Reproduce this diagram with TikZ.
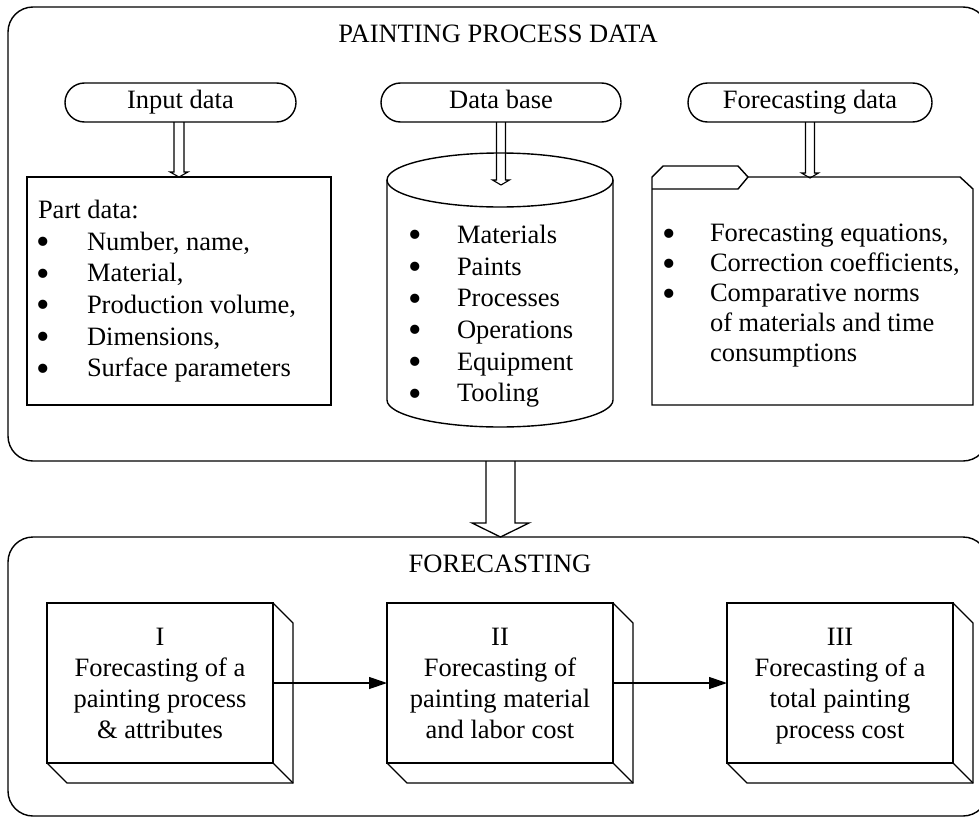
\documentclass[tikz,border=0pt]{standalone}
\usepackage{fontspec}
\setmainfont{Liberation Serif}
\usetikzlibrary{arrows.meta,calc}
\newcommand{\hollowarr}[5]{%
  \draw[line width=1.1pt, line join=miter] let \p1=(#1), \p2=(#2) in
    (\x2-#3,\y1) -- (\x2-#3,\y2+#5) -- (\x2-#4,\y2+#5) -- (\x2,\y2)
    -- (\x2+#4,\y2+#5) -- (\x2+#3,\y2+#5) -- (\x2+#3,\y1);}
\newcommand{\bigbul}{\smash{\raisebox{-0.17em}{\scalebox{1.45}{\textbullet}}}}
\begin{document}
\begin{tikzpicture}[x=1pt,y=1pt,
  every node/.style={font=\fontsize{26.5}{31.7}\selectfont, inner sep=0pt, outer sep=0pt},
  lw/.style={line width=1.4pt},
  outerframe/.style={draw, lw, rounded corners=25pt, minimum width=980pt},
  termbox/.style={draw, lw, rounded corners=19.5pt, minimum height=39pt, text height=18pt, text depth=6pt},
  listbox/.style={draw, lw},
  frontbox/.style={draw, line width=1.6pt, minimum width=226pt, minimum height=160pt, align=center, text depth=0pt, font=\fontsize{26.5}{31}\selectfont},
  flowarrow/.style={line width=1.2pt, -{Triangle[length=18pt,width=12pt]}},
  itemtext/.style={anchor=base west},
]
\useasboundingbox (0,0) rectangle (979,-819);
\clip (0,0) rectangle (979,-819);

% outer frames
\node[outerframe, minimum height=454pt] (top) at (498,-234) {};
\node[outerframe, minimum height=279pt] (fc) at (498,-676.5) {};
\node[anchor=base] (ttl) at (498,-42) {PAINTING PROCESS DATA};
\node[anchor=base] (fttl) at (500,-572) {FORECASTING};

% terminators
\node[termbox, minimum width=231pt] (inp) at (180.5,-102.5) {Input data};
\node[termbox, minimum width=240pt] (dbt) at (501,-102.5) {Data base};
\node[termbox, minimum width=244pt] (fdt) at (810,-102.5) {Forecasting data};

% part data box
\node[listbox, minimum width=304pt, minimum height=228pt] (pd) at (179,-291) {};
\node[itemtext] (pdh) at (38,-218.3) {Part data:};
\foreach \t [count=\i] in {{Number, name,},{Material,},{Production volume,},{Dimensions,},{Surface parameters}} {
  \node[itemtext] (pdb\i) at (36.5,-218.3-31.7*\i) {\bigbul};
  \node[itemtext] (pdt\i) at (87,-218.3-31.7*\i) {\t};
}

% database cylinder
\draw[lw] (500,-180) ellipse [x radius=113pt, y radius=27pt];
\draw[lw] (387,-180) -- (387,-400) arc[start angle=180, end angle=360, x radius=113pt, y radius=27pt] -- (613,-180);
\coordinate (dbtip) at (501,-185);
\foreach \t [count=\i] in {Materials,Paints,Processes,Operations,Equipment,Tooling} {
  \node[itemtext] (dbb\i) at (408.5,-243.3-31.7*\i+31.7) {\bigbul};
  \node[itemtext] (dbi\i) at (457,-243.3-31.7*\i+31.7) {\t};
}

% forecasting data folder
\draw[lw, line join=miter] (652,-405) -- (652,-177) -- (663,-166) -- (738,-166) -- (748,-177)
  -- (960,-177) -- (973,-189) -- (973,-405) -- cycle;
\draw[lw, line join=miter] (652,-189) -- (738,-189) -- (748,-177);
\coordinate (fdtip) at (810,-178);
\foreach \t [count=\i] in {{Forecasting equations,},{Correction coefficients,},{Comparative norms}} {
  \node[itemtext] (fdb\i) at (662.5,-241.7-30*\i+30) {\bigbul};
}
\foreach \t [count=\i] in {{Forecasting equations,},{Correction coefficients,},{Comparative norms},{of materials and time},{consumptions}} {
  \node[itemtext] (fdi\i) at (710,-241.7-30*\i+30) {\t};
}

% small hollow arrows
\hollowarr{inp.south}{pd.north}{5pt}{9pt}{5pt}
\hollowarr{dbt.south}{dbtip}{4.5pt}{8.5pt}{5pt}
\hollowarr{fdt.south}{fdtip}{4.5pt}{8.5pt}{5pt}

% big hollow arrow
\coordinate (bigtip) at ($(fc.north)+(2.5,0)$);
\draw[line width=1.3pt, line join=miter] let \p1=(top.south), \p2=(bigtip) in
  (\x2-14.5pt,\y1) -- (\x2-14.5pt,\y2+14pt) -- (\x2-28.5pt,\y2+14pt) -- (\x2,\y2)
  -- (\x2+28.5pt,\y2+14pt) -- (\x2+14.5pt,\y2+14pt) -- (\x2+14.5pt,\y1);

% forecasting 3D boxes
\node[frontbox] (b1) at (160,-683) {I\\Forecasting of a\\painting process\\\& attributes};
\node[frontbox] (b2) at (500,-683) {II\\Forecasting of\\painting material\\and labor cost};
\node[frontbox] (b3) at (840,-683) {III\\Forecasting of a\\total painting\\process cost};
\foreach \b in {b1,b2,b3} {
  \draw[line width=1.3pt, line join=miter] (\b.north east) -- ++(20,-20) -- ++(0,-160) -- ++(-226,0) -- (\b.south west);
  \draw[line width=1.3pt] (\b.south east) -- ++(20,-20);
}
\draw[flowarrow] (b1.east) -- (b2.west);
\draw[flowarrow] (b2.east) -- (b3.west);
\end{tikzpicture}
\end{document}
